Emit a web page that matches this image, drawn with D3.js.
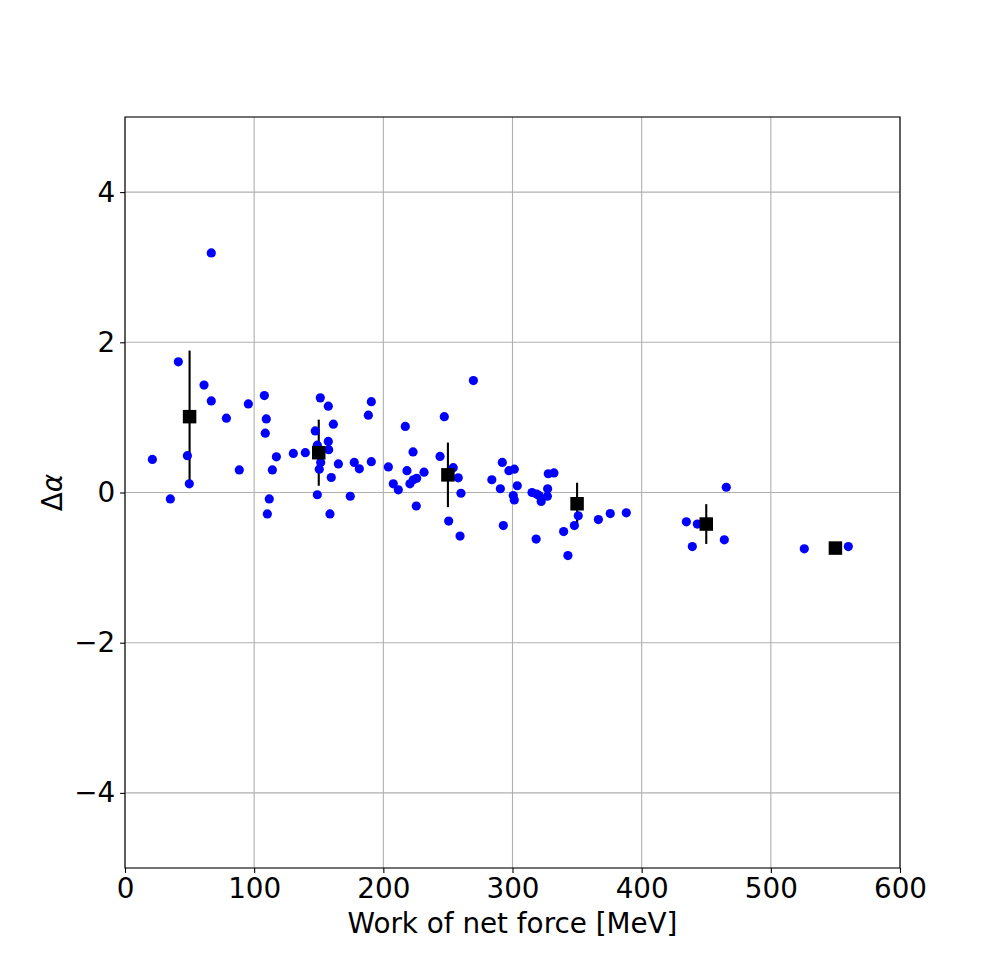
<!DOCTYPE html>
<html lang="en">
<head>
<meta charset="UTF-8">
<script src="https://cdnjs.cloudflare.com/ajax/libs/d3/7.8.5/d3.min.js"></script>
<title>Work of net force vs delta alpha</title>
<style>
    body { margin: 0; background: white; }
    svg { font-family: 'DejaVu Sans', sans-serif; }
    .axis path, .axis line { stroke: black; stroke-width: 1.1px; }
    .axis text { fill: black; font-size: 27.8px; font-family: 'DejaVu Sans', sans-serif; }
    .grid line { stroke: #b0b0b0; stroke-width: 1.1px; }
</style>
</head>
<body>
<svg id="chart"></svg>
<script>
// scatter points: work of net force [MeV] and delta alpha
const workX = [21.2, 35.1, 41.3, 48.3, 49.8, 61.2, 66.8, 66.8, 78.5, 88.5, 95.5, 107.9, 108.6, 109.4, 110.2,
    111.7, 114.1, 117.2, 130.3, 139.6, 147.3, 148.9, 148.9, 150.4, 151.2, 151.5, 157.4, 157.4, 157.7, 159.7,
    158.7, 161.3, 165.2, 174.4, 177.5, 181.4, 188.4, 190.7, 190.7, 203.9, 207.7, 211.6, 217.0, 218.3, 220.6,
    223.0, 223.2, 225.8, 225.5, 231.5, 243.9, 247.2, 250.6, 254.1, 258.0, 260.1, 259.4, 269.7, 284.0, 290.6,
    292.1, 292.9, 297.2, 301.4, 303.7, 300.6, 301.4, 315.1, 318.7, 320.5, 322.2, 327.0, 327.2, 327.7, 332.1,
    318.3, 339.6, 342.9, 347.9, 350.9, 366.5, 375.7, 388.1, 434.6, 439.2, 443.1, 464.0, 465.5, 525.9, 560.0]
const deltaAlpha = [0.44, -0.085, 1.74, 0.49, 0.115, 1.43, 3.19, 1.22, 0.99, 0.30, 1.18, 1.29, 0.79, 0.98, -0.285,
    -0.085, 0.30, 0.475, 0.52, 0.53, 0.82, 0.63, -0.03, 0.31, 1.26, 0.40, 1.15, 0.68, 0.57, 0.20,
    -0.285, 0.91, 0.38, -0.05, 0.40, 0.315, 1.03, 1.21, 0.41, 0.34, 0.115, 0.035, 0.88, 0.29, 0.115,
    0.54, 0.17, 0.19, -0.18, 0.27, 0.48, 1.01, -0.38, 0.33, 0.195, -0.01, -0.58, 1.49, 0.17, 0.05,
    0.40, -0.44, 0.29, 0.31, 0.09, -0.04, -0.10, 0.0, -0.02, -0.04, -0.12, -0.05, 0.05, 0.25, 0.26,
    -0.62, -0.52, -0.84, -0.44, -0.31, -0.36, -0.28, -0.27, -0.39, -0.72, -0.42, -0.63, 0.07, -0.75, -0.72]

// binned means with error bars
const binX = [50, 150, 250, 350, 450, 550]
const binMean = [1.01, 0.53, 0.235, -0.15, -0.42, -0.74]
const binErr = [0.88, 0.44, 0.43, 0.28, 0.265, 0]

const xTicks = [0, 100, 200, 300, 400, 500, 600]
const yTicks = [-4, -2, 0, 2, 4]

const W = 1000, H = 975
const margin = { top: 117, right: 100, bottom: 107, left: 125 }

const svg = d3.select('#chart')
    .attr('width', W)
    .attr('height', H)

const xScale = d3.scaleLinear()
    .domain([0, 600])
    .range([margin.left, W - margin.right])

const yScale = d3.scaleLinear()
    .domain([-5, 5])
    .range([H - margin.bottom, margin.top])

// grid
svg.append('g').attr('class', 'grid')
    .selectAll('line.gx')
    .data(xTicks)
    .enter().append('line')
    .attr('x1', d => xScale(d)).attr('x2', d => xScale(d))
    .attr('y1', yScale(-5)).attr('y2', yScale(5))

svg.append('g').attr('class', 'grid')
    .selectAll('line.gy')
    .data(yTicks)
    .enter().append('line')
    .attr('x1', xScale(0)).attr('x2', xScale(600))
    .attr('y1', d => yScale(d)).attr('y2', d => yScale(d))

// error bars
const bins = binX.map((x, i) => ({ x: x, y: binMean[i], e: binErr[i] }))

svg.append('g')
    .selectAll('line')
    .data(bins.filter(d => d.e > 0))
    .enter().append('line')
    .attr('x1', d => xScale(d.x)).attr('x2', d => xScale(d.x))
    .attr('y1', d => yScale(d.y - d.e)).attr('y2', d => yScale(d.y + d.e))
    .attr('stroke', 'black')
    .attr('stroke-width', 2.1)

// scatter
svg.append('g')
    .selectAll('circle')
    .data(workX.map((x, i) => ({ x: x, y: deltaAlpha[i] })))
    .enter().append('circle')
    .attr('cx', d => xScale(d.x))
    .attr('cy', d => yScale(d.y))
    .attr('r', 4.6)
    .attr('fill', 'blue')

// bin markers
const sq = 13.5
svg.append('g')
    .selectAll('rect')
    .data(bins)
    .enter().append('rect')
    .attr('x', d => xScale(d.x) - sq / 2)
    .attr('y', d => yScale(d.y) - sq / 2)
    .attr('width', sq)
    .attr('height', sq)
    .attr('fill', 'black')

// axes
const xAxis = d3.axisBottom(xScale).tickValues(xTicks).tickSize(4.9).tickPadding(4.9).tickFormat(d3.format('d'))
const yAxis = d3.axisLeft(yScale).tickValues(yTicks).tickSize(4.9).tickPadding(4.9).tickFormat(d3.format('d'))

svg.append('g')
    .attr('class', 'axis')
    .attr('transform', 'translate(0,' + yScale(-5) + ')')
    .call(xAxis)
    .call(g => g.select('.domain').remove())

svg.append('g')
    .attr('class', 'axis')
    .attr('transform', 'translate(' + xScale(0) + ',0)')
    .call(yAxis)
    .call(g => g.select('.domain').remove())

// frame
svg.append('rect')
    .attr('x', xScale(0))
    .attr('y', yScale(5))
    .attr('width', xScale(600) - xScale(0))
    .attr('height', yScale(-5) - yScale(5))
    .attr('fill', 'none')
    .attr('stroke', 'black')
    .attr('stroke-width', 1.1)

// axis labels
svg.append('text')
    .attr('x', (xScale(0) + xScale(600)) / 2)
    .attr('y', 933)
    .attr('text-anchor', 'middle')
    .style('font-size', '27.8px')
    .text('Work of net force [MeV]')

const yLab = svg.append('text')
    .attr('transform', 'translate(62,' + yScale(0) + ') rotate(-90)')
    .attr('text-anchor', 'middle')
    .style('font-size', '27.8px')
yLab.append('tspan').text('Δ')
yLab.append('tspan').style('font-style', 'italic').text('α')
</script>
</body>
</html>
